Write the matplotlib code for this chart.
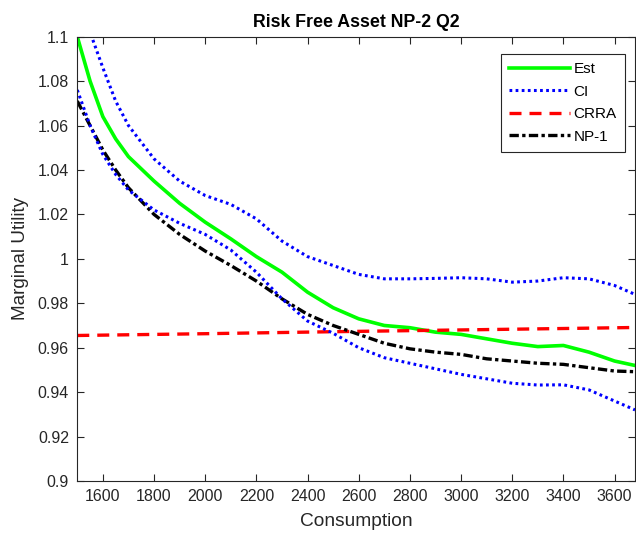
import matplotlib
matplotlib.use('Agg')
import matplotlib.pyplot as plt

plt.rcParams['font.family'] = ['Liberation Sans', 'DejaVu Sans']

# consumption grid
consumption = [1500, 1550, 1600, 1650, 1700, 1800, 1900, 2000, 2100, 2200, 2300, 2400,
               2500, 2600, 2700, 2800, 2900, 3000, 3100, 3200, 3300, 3400, 3500, 3600, 3680]

est = [1.100, 1.080, 1.064, 1.054, 1.046, 1.035, 1.025, 1.0165, 1.009, 1.001, 0.994, 0.985,
       0.978, 0.973, 0.970, 0.969, 0.967, 0.966, 0.964, 0.962, 0.9605, 0.961, 0.958, 0.954, 0.952]

ci_upper = [1.122, 1.102, 1.086, 1.071, 1.060, 1.045, 1.035, 1.0285, 1.0245, 1.018, 1.008, 1.001,
            0.997, 0.993, 0.991, 0.991, 0.9912, 0.9915, 0.991, 0.9895, 0.990, 0.9915, 0.991, 0.988, 0.984]

ci_lower = [1.076, 1.060, 1.047, 1.038, 1.031, 1.022, 1.016, 1.011, 1.004, 0.994, 0.982, 0.972,
            0.9665, 0.960, 0.9555, 0.953, 0.9505, 0.948, 0.946, 0.944, 0.9432, 0.9433, 0.941, 0.936, 0.932]

np1 = [1.071, 1.060, 1.049, 1.040, 1.032, 1.020, 1.011, 1.0035, 0.997, 0.990, 0.982, 0.975,
       0.970, 0.966, 0.962, 0.9595, 0.958, 0.957, 0.955, 0.954, 0.953, 0.9525, 0.951, 0.9495, 0.9492]

crra_x = [1500, 2000, 2500, 3000, 3500, 3680]
crra = [0.9655, 0.9663, 0.9672, 0.9680, 0.9688, 0.9691]

x_ticks = list(range(1600, 3601, 200))
y_ticks = [0.9, 0.92, 0.94, 0.96, 0.98, 1.0, 1.02, 1.04, 1.06, 1.08, 1.1]
y_labels = ['0.9', '0.92', '0.94', '0.96', '0.98', '1', '1.02', '1.04', '1.06', '1.08', '1.1']

fig = plt.figure(figsize=(6.36, 5.36), dpi=100)
ax = fig.add_axes([0.1215, 0.1026, 0.877, 0.829])

ax.plot(consumption, est, color=(0, 1, 0), lw=2.6, label='Est')
ax.plot(consumption, ci_upper, color=(0, 0, 1), lw=2.2, ls=(0, (0.9, 1.1)), label='CI')
ax.plot(crra_x, crra, color=(1, 0, 0), lw=2.4, ls=(0, (3.6, 2.4)), label='CRRA')
ax.plot(consumption, np1, color='black', lw=2.4, ls=(0, (2.8, 1.0, 1.0, 1.0)), label='NP-1')
ax.plot(consumption, ci_lower, color=(0, 0, 1), lw=2.2, ls=(0, (0.9, 1.1)))

ax.set_xlim(1500, 3680)
ax.set_ylim(0.9, 1.1)
ax.set_xticks(x_ticks)
ax.set_yticks(y_ticks)
ax.set_yticklabels(y_labels)

grey = (0.15, 0.15, 0.15)
ax.tick_params(direction='in', length=5, width=0.8, top=True, right=True,
               colors=grey, labelsize=11.5, pad=6)
for s in ax.spines.values():
    s.set_color(grey)
    s.set_linewidth(0.8)

ax.set_title('Risk Free Asset NP-2 Q2', fontsize=12.8, fontweight='bold', pad=7)
ax.set_xlabel('Consumption', fontsize=13.8, color=grey, labelpad=6)
ax.set_ylabel('Marginal Utility', fontsize=13.6, color=grey, labelpad=6)

leg = ax.legend(loc='upper right', bbox_to_anchor=(0.982, 0.961), borderaxespad=0,
                fancybox=False, framealpha=1, edgecolor=grey, fontsize=11,
                handlelength=4.0, handletextpad=0.2, labelspacing=0.55, borderpad=0.55)
leg.get_frame().set_linewidth(0.8)

fig.savefig('out.png', dpi=100)
